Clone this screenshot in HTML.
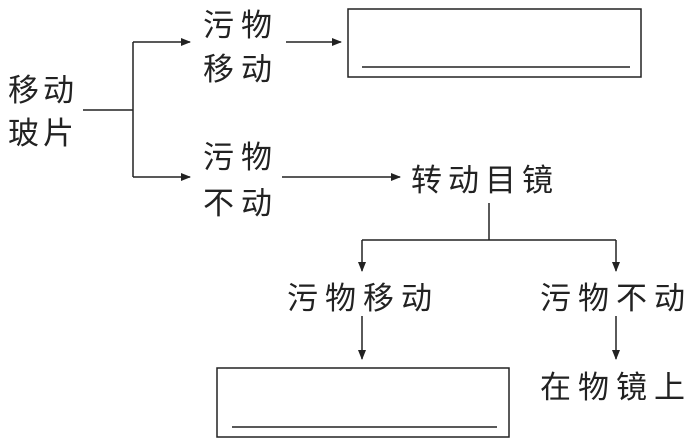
<!DOCTYPE html>
<html><head><meta charset="utf-8"><style>
html,body{margin:0;padding:0;background:#fff;}
svg{display:block}
text{font-family:"Liberation Sans","Noto Sans CJK SC",sans-serif;font-size:31px;fill:#222;}
</style></head><body>
<svg width="700" height="442" viewBox="0 0 700 442" xmlns="http://www.w3.org/2000/svg">
<defs><marker id="a" markerWidth="10" markerHeight="8" refX="9" refY="4" orient="auto" markerUnits="userSpaceOnUse"><path d="M0,0 L10,4 L0,8 Z" fill="#222"/></marker></defs>
<g stroke="#222" stroke-width="1.5" fill="none">
<rect x="348" y="9" width="293" height="68"/>
<line x1="362" y1="67" x2="630" y2="67"/>
<rect x="217" y="368" width="292" height="69"/>
<line x1="232" y1="427" x2="497" y2="427"/>
<line x1="83" y1="110" x2="133" y2="110"/>
<line x1="133" y1="42" x2="133" y2="177"/>
<line x1="133" y1="42" x2="190" y2="42" marker-end="url(#a)"/>
<line x1="133" y1="177" x2="190" y2="177" marker-end="url(#a)"/>
<line x1="286" y1="42" x2="341" y2="42" marker-end="url(#a)"/>
<line x1="282" y1="177" x2="400" y2="177" marker-end="url(#a)"/>
<line x1="489" y1="203" x2="489" y2="240"/>
<line x1="362" y1="240" x2="616" y2="240"/>
<line x1="362" y1="240" x2="362" y2="271" marker-end="url(#a)"/>
<line x1="616" y1="240" x2="616" y2="271" marker-end="url(#a)"/>
<line x1="362" y1="316" x2="362" y2="359" marker-end="url(#a)"/>
<line x1="616" y1="316" x2="616" y2="359" marker-end="url(#a)"/>
</g>
<text x="8" y="101" font-size="34" letter-spacing="4">移动</text>
<text x="8" y="144" font-size="34" letter-spacing="4">玻片</text>
<text x="203" y="36" letter-spacing="7">污物</text>
<text x="203" y="80" letter-spacing="7">移动</text>
<text x="203" y="168" letter-spacing="7">污物</text>
<text x="203" y="214" letter-spacing="7">不动</text>
<text x="411" y="191" font-size="33" letter-spacing="6">转动目镜</text>
<text x="287" y="309" letter-spacing="7">污物移动</text>
<text x="540" y="309" letter-spacing="7">污物不动</text>
<text x="540" y="398" letter-spacing="7">在物镜上</text>
</svg>
</body></html>
